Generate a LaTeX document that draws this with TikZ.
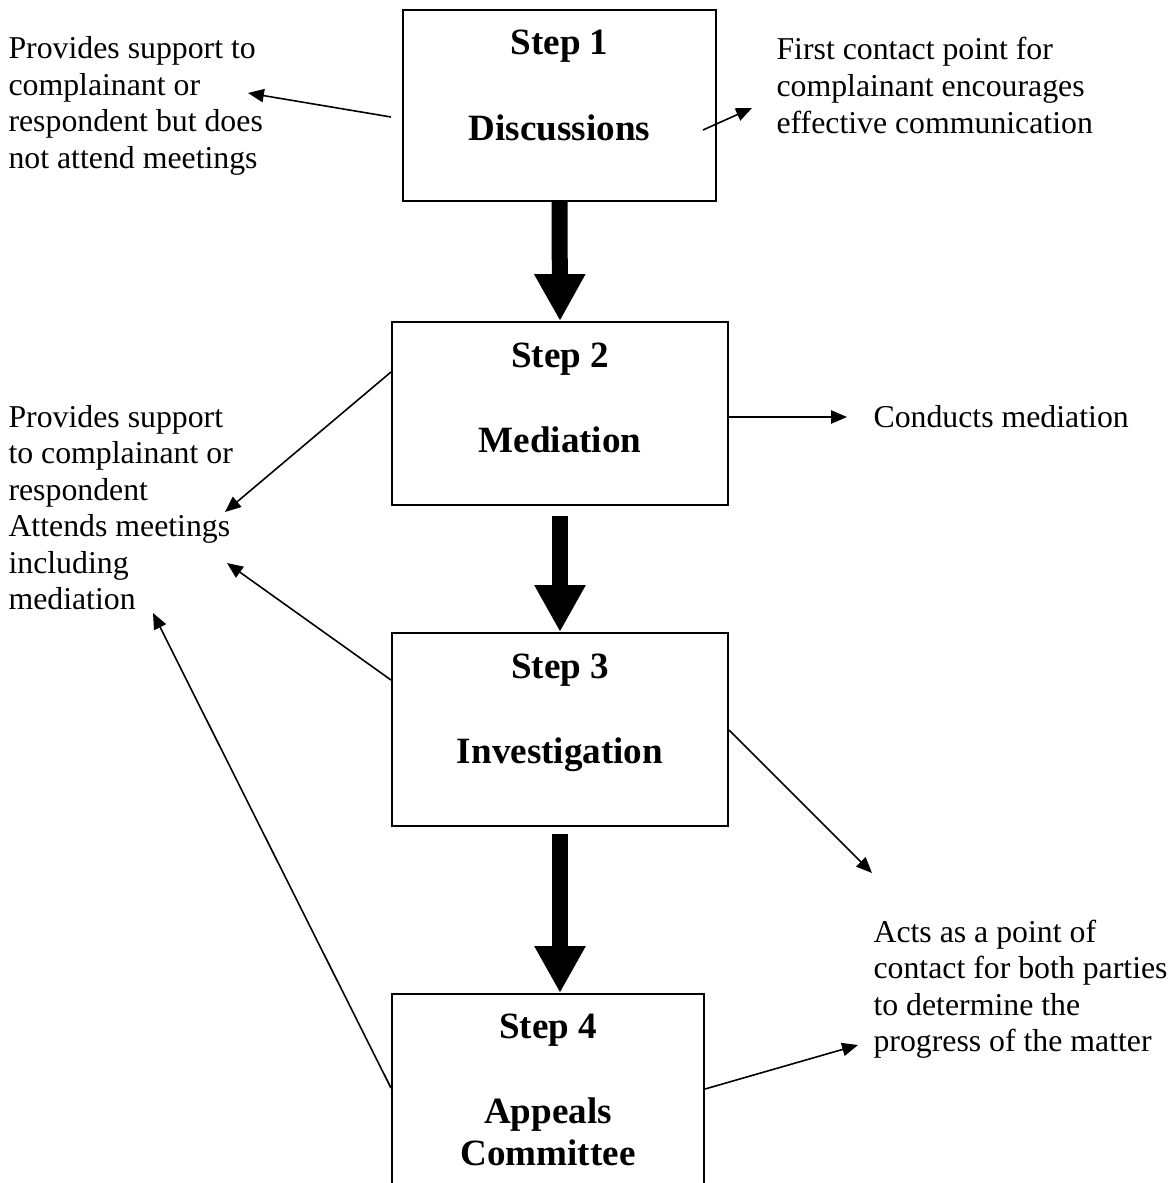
\documentclass[tikz,border=0pt]{standalone}
\usepackage{fontspec}
\setmainfont{Liberation Serif}
\usetikzlibrary{arrows.meta}
\newcommand\txtfont{\fontsize{12pt}{13.8pt}\selectfont}
\newcommand\boxfont{\fontsize{14pt}{16.1pt}\selectfont\bfseries}
\begin{document}
\begin{tikzpicture}[x=0.3774pt,y=-0.3774pt,
  stepbox/.style={draw,line width=0.75pt,inner sep=0pt,fill=none},
  thin/.style={line width=0.6pt,-{Triangle[length=6pt,width=5pt]}},
  fat/.style={line width=6.04pt,-{Triangle[length=17.7pt,width=18.1pt]}},
  lbl/.style={inner sep=0pt,anchor=base west,font=\txtfont},
  ttl/.style={inner sep=0pt,anchor=base,font=\boxfont}]
\useasboundingbox (0,0) rectangle (1171,1183);
% boxes
\node[stepbox,minimum width=118.13pt,minimum height=72.08pt] (b1) at (559.5,105.5) {};
\node[stepbox,minimum width=126.81pt,minimum height=69.06pt] (b2) at (560,413.5) {};
\node[stepbox,minimum width=126.81pt,minimum height=72.84pt] (b3) at (560,729.5) {};
\node[stepbox,minimum width=117.75pt,minimum height=83.03pt] (b4) at (548,1104) {};
% box titles
\node[ttl] (t1) at (559.5,55) {\parbox[t]{120pt}{\centering Step 1\\[16.1pt]Discussions}};
\node[ttl] (t2) at (560,367) {\parbox[t]{120pt}{\centering Step 2\\[16.1pt]Mediation}};
\node[ttl] (t3) at (560,678) {\parbox[t]{120pt}{\centering Step 3\\[16.1pt]Investigation}};
\node[ttl] (t4) at (548,1038) {\parbox[t]{120pt}{\centering Step 4\\[16.1pt]Appeals\\Committee}};
% side texts
\node[lbl] (l1) at (8,58.5) {\parbox[t]{110pt}{\raggedright Provides support to\\complainant or\\respondent but does\\not attend meetings}};
\node[lbl] (r1) at (776,60) {\parbox[t]{140pt}{\raggedright First contact point for\\complainant encourages\\effective communication}};
\node[lbl] (l2) at (8,427) {\parbox[t]{110pt}{\raggedright Provides support\\to complainant or\\respondent\\Attends meetings\\including\\mediation}};
\node[lbl] (r2) at (873,427) {Conducts mediation};
\node[lbl] (r4) at (873,942) {\parbox[t]{130pt}{\raggedright Acts as a point of\\contact for both parties\\to determine the\\progress of the matter}};
% thick arrows
\draw[fat] (b1.south) -- (b2.north);
\draw[fat,shorten <=3.8pt] (b2.south) -- (b3.north);
\draw[fat,shorten <=2.6pt] (b3.south) -- (b3.south |- b4.north);
% thin arrows
\coordinate (s1) at (391,117); \coordinate (e1) at (248,93);
\coordinate (s2) at (703,130); \coordinate (e2) at (752,108);
\coordinate (s3) at (b2.west |- 0,372); \coordinate (e3) at (225,512);
\coordinate (s4) at (b3.west |- 0,680); \coordinate (e4) at (227,563);
\coordinate (s5) at (b4.west |- 0,1088); \coordinate (e5) at (153,613);
\coordinate (s6) at (b2.east |- 0,417); \coordinate (e6) at (847,417);
\coordinate (s7) at (b3.east |- 0,730); \coordinate (e7) at (872,873);
\coordinate (s8) at (b4.east |- 0,1089); \coordinate (e8) at (858,1045);
\foreach \i in {1,...,8} {\draw[thin] (s\i) -- (e\i);}
\end{tikzpicture}
\end{document}
